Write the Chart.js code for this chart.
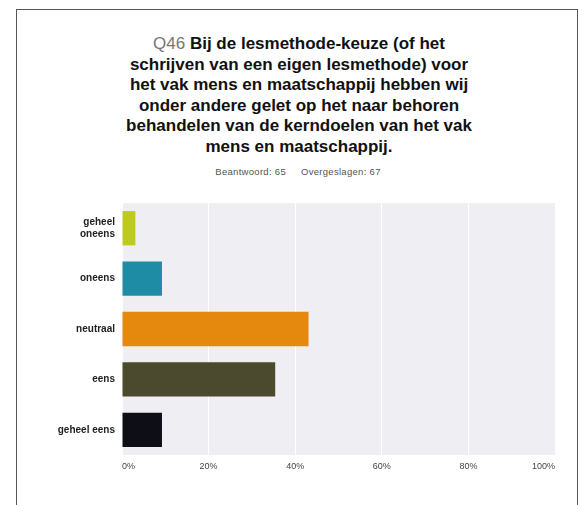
<!DOCTYPE html>
<html>
<head>
<meta charset="utf-8">
<script src="https://cdn.jsdelivr.net/npm/chart.js@4"></script>
<style>
  html, body { margin: 0; padding: 0; background: #fff; }
  body { width: 582px; height: 505px; position: relative; overflow: hidden; font-family: 'Liberation Sans', Arial, sans-serif; }
  #frame { position: absolute; left: 16px; top: 9px; width: 560px; height: 520px; border: 1px solid #555; border-bottom: none; }
  #title { position: absolute; left: 69px; width: 460px; top: 34px; text-align: center; font-weight: bold; font-size: 17px; line-height: 20.6px; color: #111; white-space: nowrap; }
  #title .q { color: #777; font-weight: normal; }
  #sub { position: absolute; left: 0; width: 596px; top: 166px; text-align: center; font-size: 9.5px; letter-spacing: 0.3px; color: #555; }
  #sub span { margin: 0 6px; }
  #wrap { position: absolute; left: 17px; top: 190px; width: 545px; height: 290px; }
</style>
</head>
<body>
<div id="frame"></div>
<div id="title"><span class="q">Q46</span> Bij de lesmethode-keuze (of het<br>schrijven van een eigen lesmethode) voor<br>het vak mens en maatschappij hebben wij<br>onder andere gelet op het naar behoren<br>behandelen van de kerndoelen van het vak<br>mens en maatschappij.</div>
<div id="sub"><span>Beantwoord: 65</span> <span>Overgeslagen: 67</span></div>
<div id="wrap"><canvas id="chart"></canvas></div>
<script>
/* Global Variables */
let categories = [['geheel', 'oneens'], 'oneens', 'neutraal', 'eens', 'geheel eens'];
let percentages = [3.08, 9.23, 43.08, 35.38, 9.23];
let barColors = ['#bccb1e', '#1f8ca6', '#e5880e', '#4b4a2e', '#0e0e16'];
let tickValues = [0, 20, 40, 60, 80, 100];

// grey plot background behind the bars
const plotBackground = {
  id: 'plotBackground',
  beforeDraw(chart) {
    const { ctx, chartArea } = chart;
    ctx.save();
    ctx.fillStyle = '#eeeef3';
    ctx.fillRect(chartArea.left, chartArea.top, chartArea.right - chartArea.left, chartArea.bottom - chartArea.top);
    ctx.restore();
  },
};

//-----------------------------------------------//
/* Horizontal Bar Chart */
//-----------------------------------------------//
function horizontalBar() {
  let ctx = document.getElementById('chart');
  new Chart(ctx, {
    type: 'bar',
    data: {
      labels: categories,
      datasets: [
        {
          data: percentages,
          backgroundColor: barColors,
          borderWidth: 0,
          categoryPercentage: 0.68,
          barPercentage: 1,
        },
      ],
    },
    options: {
      indexAxis: 'y',
      responsive: true,
      maintainAspectRatio: false,
      animation: false,
      layout: { padding: { top: 8, right: 7, left: 0, bottom: 0 } },
      plugins: {
        legend: { display: false },
        tooltip: { enabled: false },
      },
      scales: {
        x: {
          min: 0,
          max: 100,
          afterBuildTicks: (scale) => {
            scale.ticks = tickValues.map((v) => ({ value: v }));
          },
          afterFit: (scale) => {
            scale.height = 25;
          },
          grid: { color: '#ffffff', lineWidth: 1, drawTicks: false },
          border: { display: false },
          ticks: {
            align: 'inner',
            padding: 6,
            color: '#444',
            font: { family: "'Liberation Sans', Arial, sans-serif", size: 9 },
            callback: (v) => v + '%',
          },
        },
        y: {
          afterFit: (scale) => {
            scale.width = 105;
          },
          grid: { display: false, drawTicks: false },
          border: { display: false },
          ticks: {
            padding: 7,
            color: '#222',
            font: { family: "'Liberation Sans', Arial, sans-serif", size: 10, weight: 'bold' },
          },
        },
      },
    },
    plugins: [plotBackground],
  });
}

horizontalBar();
</script>
</body>
</html>
